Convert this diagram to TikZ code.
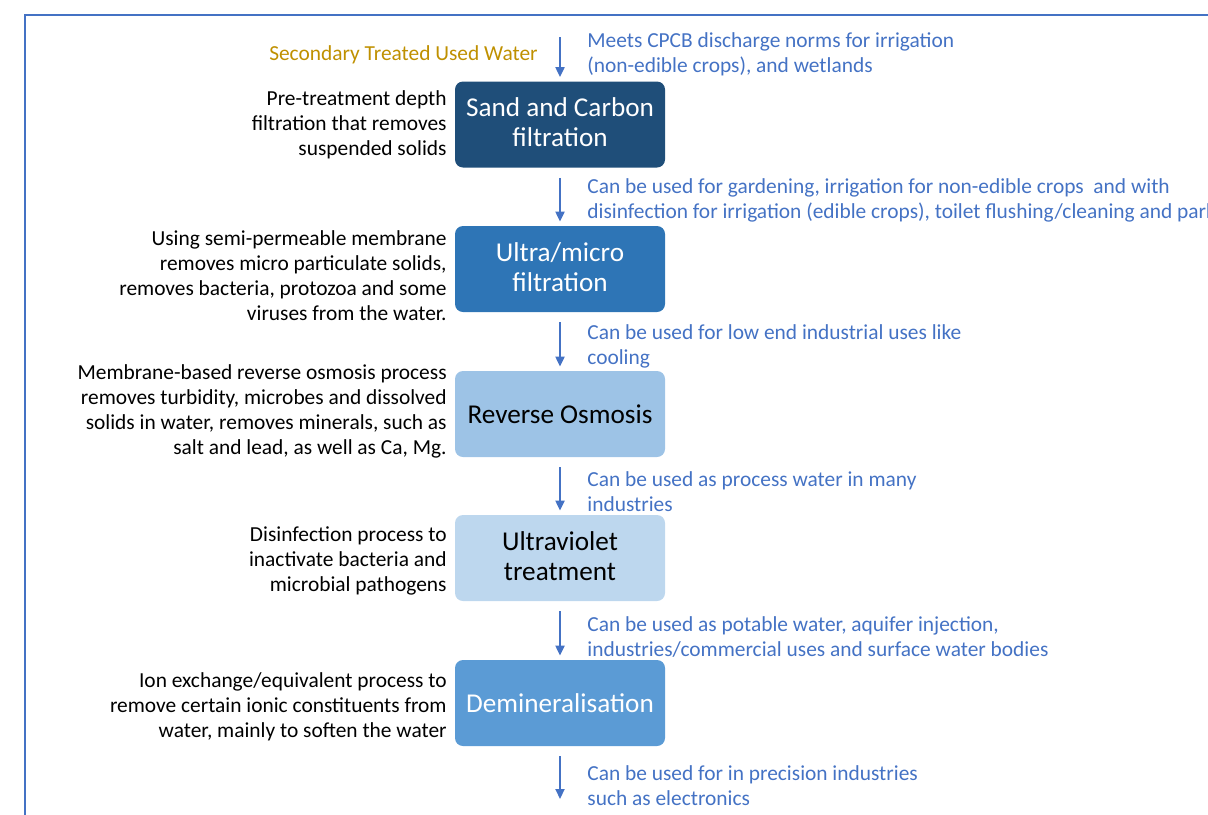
\documentclass[tikz,border=0pt]{standalone}
\usepackage{fontspec}
\setmainfont{Carlito}
\usetikzlibrary{arrows.meta}
\definecolor{frameblue}{HTML}{4472C4}
\definecolor{txtblue}{HTML}{4472C4}
\definecolor{gold}{HTML}{BF9000}
\definecolor{cA}{HTML}{1F4E79}
\definecolor{cB}{HTML}{2E75B6}
\definecolor{cC}{HTML}{9DC3E6}
\definecolor{cD}{HTML}{BDD7EE}
\definecolor{cE}{HTML}{5B9BD5}
\tikzset{
  stagebox/.style={rounded corners=4pt, minimum width=105pt, minimum height=43pt, inner sep=2pt, align=center,
    font=\fontsize{13.6}{15}\selectfont},
  lefttxt/.style={anchor=east, align=right, inner sep=0pt, font=\fontsize{10.7}{12.5}\selectfont, text=black},
  righttxt/.style={anchor=west, align=left, inner sep=0pt, font=\fontsize{10.7}{12.5}\selectfont, text=txtblue},
  flow/.style={draw=frameblue, line width=1pt, -{Triangle[width=4.5pt,length=5pt]}, shorten <=5pt, shorten >=2pt}
}
\begin{document}
\begin{tikzpicture}[x=0.5pt,y=-0.5pt]
\useasboundingbox (0,0) rectangle (1208,814);
\clip (0,0) rectangle (1208,814);
\draw[frameblue, line width=1pt] (1210,15) -- (25,15) -- (25,816);

\node[stagebox, fill=cA, text=white] (s1) at (560,124.5) {\raisebox{2pt}{Sand and Carbon}\\\raisebox{2pt}{filtration}};
\node[stagebox, fill=cB, text=white] (s2) at (560,269) {\raisebox{2pt}{Ultra/micro}\\\raisebox{2pt}{filtration}};
\node[stagebox, fill=cC, text=black] (s3) at (560,414) {Reverse Osmosis};
\node[stagebox, fill=cD, text=black] (s4) at (560,558) {\raisebox{2pt}{Ultraviolet}\\\raisebox{2pt}{treatment}};
\node[stagebox, fill=cE, text=white] (s5) at (560,703) {Demineralisation};

\coordinate (top) at (560,27);
\coordinate (bot) at (560,803);

\draw[flow] (top) -- (s1.north);
\draw[flow] (s1.south) -- (s2.north);
\draw[flow] (s2.south) -- (s3.north);
\draw[flow] (s3.south) -- (s4.north);
\draw[flow] (s4.south) -- (s5.north);
\draw[flow] (s5.south) -- (bot);

\node[lefttxt, text=gold] (src) at (538,55) {Secondary Treated Used Water};

\node[lefttxt] (l1) at (447,125) {Pre-treatment depth\\filtration that removes\\suspended solids};
\node[lefttxt] (l2) at (447,275.5) {Using semi-permeable membrane\\removes micro particulate solids,\\removes bacteria, protozoa and some\\viruses from the water.};
\node[lefttxt] (l3) at (447,411.5) {Membrane-based reverse osmosis process\\removes turbidity, microbes and dissolved\\solids in water, removes minerals, such as\\salt and lead, as well as Ca, Mg.};
\node[lefttxt] (l4) at (447,561) {Disinfection process to\\inactivate bacteria and\\microbial pathogens};
\node[lefttxt] (l5) at (447,707) {Ion exchange/equivalent process to\\remove certain ionic constituents from\\water, mainly to soften the water};

\node[righttxt] (r0) at (587,54.5) {Meets CPCB discharge norms for irrigation\\(non-edible crops), and wetlands};
\node[righttxt] (r1) at (587,200.5) {Can be used for gardening, irrigation for non-edible crops\ \ and with\\disinfection for irrigation (edible crops), toilet flushing/cleaning and parks};
\node[righttxt] (r2) at (587,346.5) {Can be used for low end industrial uses like\\cooling};
\node[righttxt] (r3) at (587,491.5) {Can be used as process water in many\\industries};
\node[righttxt] (r4) at (587,637.5) {Can be used as potable water, aquifer injection,\\industries/commercial uses and surface water bodies};
\node[righttxt] (r5) at (587,785.5) {Can be used for in precision industries\\such as electronics};
\end{tikzpicture}
\end{document}
